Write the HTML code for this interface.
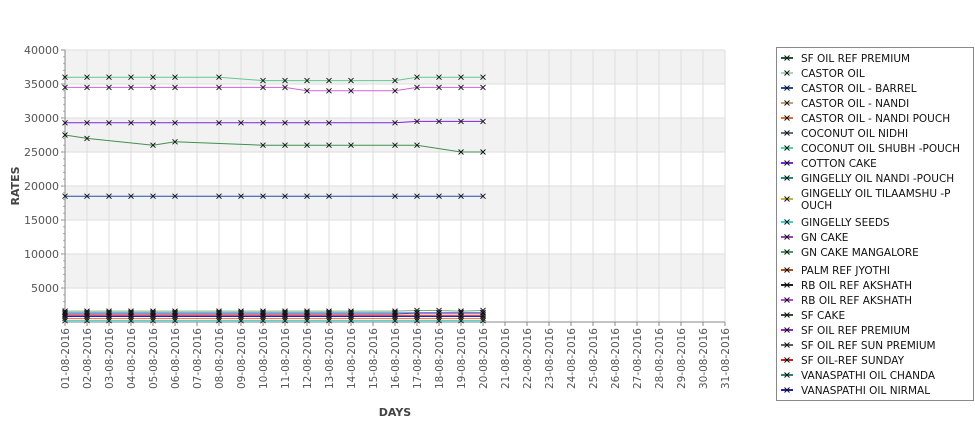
<!DOCTYPE html>
<html><head><meta charset="utf-8"><style>
body{margin:0;background:#fff;font-family:"Liberation Sans","DejaVu Sans",sans-serif;}
svg text{font-family:"DejaVu Sans","Liberation Sans",sans-serif;}
</style></head><body>
<svg id="chart" width="975" height="429" xmlns="http://www.w3.org/2000/svg">
<g id="bands"></g><g id="grid"></g><g id="axes"></g><g id="series"></g>
<text x="19" y="186" font-size="11" font-weight="bold" fill="#444" transform="rotate(-90 19 186)" text-anchor="middle">RATES</text>
<text x="395" y="416" font-size="11" font-weight="bold" fill="#444" text-anchor="middle">DAYS</text>
<rect x="776.5" y="47.5" width="197" height="353" fill="#fff" stroke="#888"/>
<g id="legend"></g>
</svg>
<script>
const yTicks=[5000,10000,15000,20000,25000,30000,35000,40000];
const dayLabels=[];for(let d=1;d<=31;d++)dayLabels.push(String(d).padStart(2,'0')+'-08-2016');
const legendNames=[" SF OIL REF PREMIUM","CASTOR OIL","CASTOR OIL - BARREL","CASTOR OIL - NANDI","CASTOR OIL - NANDI POUCH","COCONUT OIL NIDHI","COCONUT OIL SHUBH -POUCH","COTTON CAKE","GINGELLY OIL NANDI -POUCH","GINGELLY OIL TILAAMSHU -P|OUCH","GINGELLY SEEDS","GN CAKE","GN CAKE MANGALORE","PALM REF JYOTHI","RB OIL REF  AKSHATH","RB OIL REF AKSHATH","SF CAKE","SF OIL REF PREMIUM","SF OIL REF SUN PREMIUM","SF OIL-REF SUNDAY","VANASPATHI OIL CHANDA","VANASPATHI OIL NIRMAL"];
const legendColors=["#1f5f2f","#a8d8b8","#1f4fa8","#c8a070","#e07030","#607080","#40e0a0","#8020e0","#209080","#c8b040","#30d8d0","#a040c0","#40a060","#b05010","#202020","#c040e0","#305030","#a020c0","#606060","#d02020","#308080","#2020c0"];
const days=[1,2,3,4,5,6,8,9,10,11,12,13,14,16,17,18,19,20];
const sGreen=[36000,36000,36000,36000,36000,36000,36000,null,35500,35500,35500,35500,35500,35500,36000,36000,36000,36000];
const sMagenta=[34500,34500,34500,34500,34500,34500,34500,null,34500,34500,34000,34000,34000,34000,34500,34500,34500,34500];
const sPurple=[29300,29300,29300,29300,29300,29300,29300,29300,29300,29300,29300,29300,null,29300,29500,29500,29500,29500];
const sDkGreen=[27500,27000,null,null,26000,26500,null,null,26000,26000,26000,26000,26000,26000,26000,null,25000,25000];
const sBlue=[18500,18500,18500,18500,18500,18500,18500,18500,18500,18500,18500,18500,null,18500,18500,18500,18500,18500];
const lowA=[1600,1600,1600,1600,1600,1600,1600,1600,1600,1600,1600,1600,1600,1600,1700,1700,1600,1700];
const lowB=[1400,1400,1400,1400,1400,1400,1400,1400,1400,1400,1400,1400,1400,1400,1400,1400,1400,1400];
const lowC=[1200,1200,1200,1200,1200,1200,1200,1200,1200,1200,1200,1200,1200,1200,1300,1300,1300,1300];
const lowD=[1000,1000,1000,1000,1000,1000,1000,1000,1000,1000,1000,1000,1000,1000,1000,1000,1000,1000];
const lowE=[800,800,800,800,800,800,800,800,800,800,800,800,800,800,800,800,800,800];
const lowF=[500,500,500,500,500,500,500,500,500,500,500,500,500,500,500,500,500,500];
const lowG=[200,200,200,200,200,200,200,200,200,200,200,200,200,200,200,200,200,200];
const NS='http://www.w3.org/2000/svg';
const X0=65,X1=725,Y0=322,Y1=50;
const xs=d=>X0+(d-1)*(X1-X0)/30;
const ys=v=>Y0-v*(Y0-Y1)/40000;
function mk(t,a,p){const e=document.createElementNS(NS,t);for(const k in a)e.setAttribute(k,a[k]);p.appendChild(e);return e;}
const bands=document.getElementById('bands'),grid=document.getElementById('grid'),axes=document.getElementById('axes'),ser=document.getElementById('series'),leg=document.getElementById('legend');
for(let v=5000;v<40000;v+=10000){const r=mk('rect',{x:X0,y:ys(v+5000),width:X1-X0,height:ys(v)-ys(v+5000),fill:'#f2f2f2'},bands);

}
yTicks.forEach(v=>{const l=mk('line',{x1:X0,x2:X1,y1:ys(v),y2:ys(v),stroke:'#ddd'},grid);


const t=mk('text',{x:X0-6,y:ys(v)+4,'font-size':11,fill:'#555','text-anchor':'end'},axes);t.textContent=v;


mk('line',{x1:X0-4,x2:X0,y1:ys(v),y2:ys(v),stroke:'#888'},axes);});
for(let v=1000;v<40000;v+=1000)mk('line',{x1:X0-2,x2:X0,y1:ys(v),y2:ys(v),stroke:'#aaa'},axes);
dayLabels.forEach((s,i)=>{const x=xs(i+1);mk('line',{x1:x,x2:x,y1:Y1,y2:Y0,stroke:'#ddd'},grid);
mk('line',{x1:x,x2:x,y1:Y0,y2:Y0+4,stroke:'#888'},axes);
const t=mk('text',{x:x+4,y:Y0+6,'font-size':10.5,fill:'#555','text-anchor':'end',transform:`rotate(-90 ${x+4} ${Y0+6})`},axes);t.textContent=s;

});
mk('line',{x1:X0,x2:X0,y1:Y1,y2:Y0,stroke:'#888'},axes);mk('line',{x1:X0,x2:X1,y1:Y0,y2:Y0,stroke:'#888'},axes);
function series(vals,color,name){let pts=[];days.forEach((d,i)=>{if(vals[i]!=null)pts.push([xs(d),ys(vals[i])]);});
const p=mk('polyline',{points:pts.map(p=>p.join(',')).join(' '),fill:'none',stroke:color,'stroke-width':1},ser);


pts.forEach(([x,y])=>{const m=mk('path',{d:`M${x-2.5},${y-2.5}L${x+2.5},${y+2.5}M${x-2.5},${y+2.5}L${x+2.5},${y-2.5}`,stroke:'#111','stroke-width':0.9},ser);

});}
series(sGreen,'#60c890','series-castor-oil');
series(sMagenta,'#d060e0','series-rb-oil');
series(sPurple,'#8020e0','series-cotton-cake');
series(sDkGreen,'#409050','series-gn-cake-mangalore');
series(sBlue,'#1f4fa8','series-castor-barrel');
series(lowA,'#70b080','series-low-a');series(lowB,'#30d8d0','series-low-b');series(lowC,'#a020c0','series-low-c');
series(lowD,'#d02020','series-low-d');series(lowE,'#2020c0','series-low-e');series(lowF,'#e07030','series-low-f');series(lowG,'#30d8d0','series-low-g');
let ly=58;
legendNames.forEach((n,i)=>{const parts=n.split('|');let cy=ly;if(parts.length>1)cy=ly+6;
const g=mk('g',{},leg);


mk('line',{x1:781,x2:793,y1:cy,y2:cy,stroke:legendColors[i],'stroke-width':2},g);
mk('path',{d:`M784.5,${cy-2.5}L789.5,${cy+2.5}M784.5,${cy+2.5}L789.5,${cy-2.5}`,stroke:'#111'},g);
parts.forEach((p,j)=>{const t=mk('text',{x:801,y:(parts.length>1?ly+j*12:ly)+4,'font-size':10.5,fill:'#111'},g);t.textContent=p;});
ly+= parts.length>1?29:15; if(i==12)ly+=3;});
</script>
</body></html>
